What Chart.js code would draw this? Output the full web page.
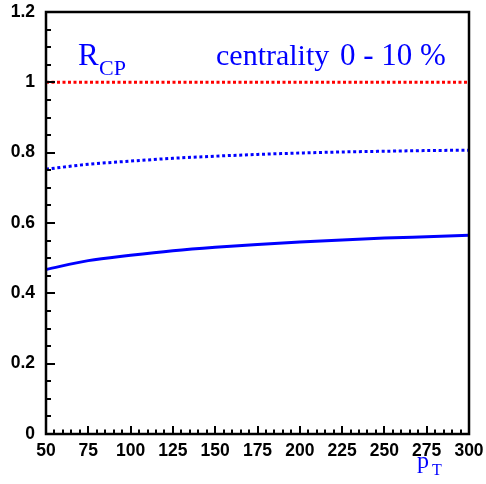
<!DOCTYPE html>
<html><head><meta charset="utf-8">
<script src="https://cdn.jsdelivr.net/npm/chart.js@4/dist/chart.umd.min.js"></script>
<style>html,body{margin:0;padding:0;background:#fff}#wrap{width:486px;height:484px}</style>
</head><body><div id="wrap"><canvas id="c" width="486" height="484"></canvas></div>
<script>
// Data
const pT = [50, 75, 100, 125, 150, 175, 200, 225, 250, 275, 300];
const rcpSolid = [0.468, 0.493, 0.508, 0.521, 0.531, 0.539, 0.546, 0.552, 0.557, 0.561, 0.565];
const rcpDotted = [0.753, 0.767, 0.776, 0.784, 0.790, 0.795, 0.799, 0.802, 0.804, 0.806, 0.807];
const refX = [50, 300];
const refY = [1, 1];
const xRange = [50, 300];
const yRange = [0, 1.2];
const xMajorStep = 25, xMinorStep = 5;
const yMajorStep = 0.2, yMinorStep = 0.05;

const pts = (xs, ys) => xs.map((x, i) => ({x, y: ys[i]}));

const frameTicks = {
  id: 'frameTicks',
  afterDatasetsDraw(chart) {
    const {ctx, chartArea: a, scales: {x, y}} = chart;
    ctx.save();
    ctx.strokeStyle = '#000';
    ctx.lineWidth = 2;
    const nx = Math.round((xRange[1] - xRange[0]) / xMinorStep);
    const xr = Math.round(xMajorStep / xMinorStep);
    for (let i = 0; i <= nx; i++) {
      const v = xRange[0] + i * xMinorStep;
      const px = Math.round(x.getPixelForValue(v));
      const len = (i % xr === 0) ? 8 : 4.5;
      ctx.beginPath(); ctx.moveTo(px, a.bottom); ctx.lineTo(px, a.bottom - len); ctx.stroke();
    }
    const ny = Math.round((yRange[1] - yRange[0]) / yMinorStep);
    const yr = Math.round(yMajorStep / yMinorStep);
    for (let i = 0; i <= ny; i++) {
      const v = yRange[0] + i * yMinorStep;
      const py = Math.round(y.getPixelForValue(v));
      const len = (i % yr === 0) ? 9 : 5;
      ctx.beginPath(); ctx.moveTo(a.left, py); ctx.lineTo(a.left + len, py); ctx.stroke();
    }
    ctx.lineWidth = 2.5;
    ctx.strokeRect(a.left, a.top, a.right - a.left, a.bottom - a.top);
    ctx.restore();
  }
};

const labels = {
  id: 'labels',
  afterDraw(chart) {
    const {ctx} = chart;
    ctx.save();
    ctx.fillStyle = '#0000ff';
    ctx.textBaseline = 'alphabetic';
    ctx.textAlign = 'left';
    ctx.font = '31px "Liberation Serif"';
    ctx.fillText('R', 78, 65);
    ctx.font = '22px "Liberation Serif"';
    ctx.fillText('CP', 99, 75);
    ctx.font = '30px "Liberation Serif"';
    ctx.fillText('centrality', 216, 65);
    ctx.font = '31px "Liberation Serif"';
    ctx.fillText('0 - 10 %', 340, 65);
    ctx.font = '24px "Liberation Serif"';
    ctx.fillText('p', 417, 468);
    ctx.font = '16px "Liberation Serif"';
    ctx.fillText('T', 432, 475);
    ctx.restore();
  }
};

new Chart(document.getElementById('c'), {
  type: 'line',
  data: {
    datasets: [
      {data: pts(refX, refY), borderColor: '#ff0000', borderWidth: 3, borderDash: [3, 2.5], pointRadius: 0, tension: 0},
      {data: pts(pT, rcpDotted), borderColor: '#0000ff', borderWidth: 3, borderDash: [3, 2.7], pointRadius: 0, cubicInterpolationMode: 'monotone'},
      {data: pts(pT, rcpSolid), borderColor: '#0000ff', borderWidth: 3, pointRadius: 0, cubicInterpolationMode: 'monotone'}
    ]
  },
  options: {
    responsive: false,
    animation: false,
    devicePixelRatio: 1,
    layout: {padding: {left: 0, top: 12, right: 17, bottom: 0}},
    plugins: {legend: {display: false}, tooltip: {enabled: false}},
    scales: {
      x: {
        type: 'linear', min: xRange[0], max: xRange[1],
        grid: {display: false, drawTicks: false},
        border: {display: false},
        ticks: {stepSize: xMajorStep, color: '#000', padding: 7, maxRotation: 0, autoSkip: false,
          font: {family: '"Liberation Sans", Arial, sans-serif', weight: 'bold', size: 17.5}},
        afterFit(s) { s.height = 50; s.paddingLeft = 0; s.paddingRight = 0; }
      },
      y: {
        type: 'linear', min: yRange[0], max: yRange[1],
        grid: {display: false, drawTicks: false},
        border: {display: false},
        ticks: {stepSize: yMajorStep, color: '#000', padding: 11,
          callback: v => String(Math.round(v * 10) / 10),
          font: {family: '"Liberation Sans", Arial, sans-serif', weight: 'bold', size: 17.5}},
        afterFit(s) { s.width = 46; s.paddingTop = 0; s.paddingBottom = 0; }
      }
    }
  },
  plugins: [frameTicks, labels]
});
</script>
</body></html>
